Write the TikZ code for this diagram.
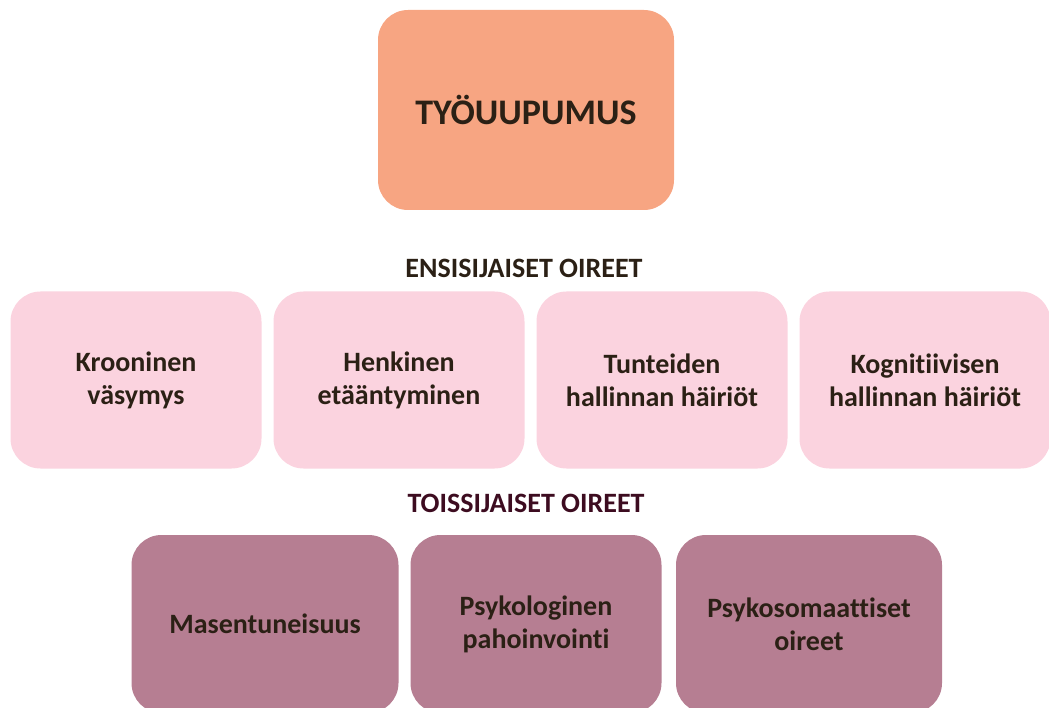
\documentclass[tikz,border=0pt]{standalone}
\usepackage{fontspec}
\setmainfont[Ligatures={NoCommon}]{Carlito}
\usetikzlibrary{positioning}
\definecolor{salmon}{HTML}{F7A582}
\definecolor{lightpink}{HTML}{FBD3DF}
\definecolor{mauve}{HTML}{B67E92}
\definecolor{darktext}{HTML}{2B2015}
\definecolor{wine}{HTML}{3D0C20}
\tikzstyle{box}=[rectangle,rounded corners=30pt,align=center,text=darktext,
  inner sep=4pt,font=\bfseries\fontsize{28}{33}\selectfont]
\tikzstyle{main}=[box,fill=salmon,minimum width=296pt,minimum height=200pt,
  font=\bfseries\fontsize{36}{40}\selectfont]
\tikzstyle{ens}=[box,fill=lightpink,minimum width=251pt,minimum height=177pt]
\tikzstyle{toi}=[box,fill=mauve,minimum height=178pt]
\tikzstyle{head}=[font=\bfseries\fontsize{28}{32}\selectfont]

\begin{document}
\begin{tikzpicture}[x=1pt, y=-1pt, on grid]
  \useasboundingbox (0,0) rectangle (1049,708);
  \clip (0,0) rectangle (1049,708);
  \node[main] (top) at (526,110) {TYÖUUPUMUS};

  \node[head, text=darktext] (enshead) at (524,268) {ENSISIJAISET OIREET};
  \node[ens] (e1) at (136,380) {Krooninen\\väsymys};
  \node[ens, right=263pt of e1] (e2) {Henkinen\\etääntyminen};
  \node[ens, right=263pt of e2] (e3) {Tunteiden\\hallinnan häiriöt};
  \node[ens, right=263pt of e3] (e4) {Kognitiivisen\\hallinnan häiriöt};

  \node[head, text=wine] (toihead) at (526,503) {TOISSIJAISET OIREET};
  \node[toi, minimum width=267pt] (t1) at (265,624) {Masentuneisuus};
  \node[toi, minimum width=251pt, right=271pt of t1] (t2) {Psykologinen\\pahoinvointi};
  \node[toi, minimum width=266pt, right=273pt of t2] (t3) {Psykosomaattiset\\oireet};
\end{tikzpicture}
\end{document}
